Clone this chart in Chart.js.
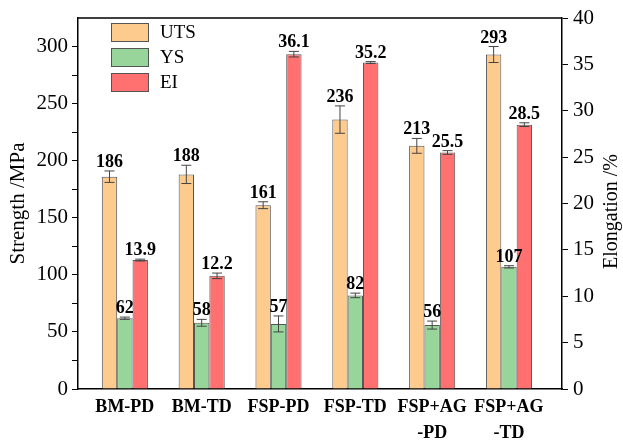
<!DOCTYPE html>
<html>
<head>
<meta charset="utf-8">
<script src="https://cdn.jsdelivr.net/npm/chart.js@4/dist/chart.umd.min.js"></script>
<style>
  body { margin: 0; background: #fff; }
  #wrap { width: 623px; height: 442px; }
</style>
</head>
<body>
<div id="wrap"><canvas id="mechChart"></canvas></div>
<script>
const categories = [['BM-PD'], ['BM-TD'], ['FSP-PD'], ['FSP-TD'], ['FSP+AG', '-PD'], ['FSP+AG', '-TD']];

const utsValues = [186, 188, 161, 236, 213, 293];
const utsErr    = [5, 8, 3, 12, 6.5, 7];
const ysValues  = [62, 58, 57, 82, 56, 107];
const ysErr     = [1, 3, 7, 2, 3.5, 1];
const eiValues  = [13.9, 12.2, 36.1, 35.2, 25.5, 28.5];
const eiErr     = [0.1, 0.3, 0.3, 0.1, 0.2, 0.2];

const seriesNames = ['UTS', 'YS', 'EI'];
const seriesColors = ['#fdcb8e', '#98d59a', '#ff7171'];

const SERIF = "'Liberation Serif', 'Times New Roman', serif";

function points(vals) {
  return vals.map((v, i) => ({ x: i, y: v }));
}

const errors = [utsErr, ysErr, eiErr];
const labelsText = [
  utsValues.map(String),
  ysValues.map(String),
  eiValues.map(v => v.toFixed(1)),
];

// error bars + value labels + legend + top frame line + right title
const extras = {
  id: 'extras',
  afterDatasetsDraw(chart) {
    const { ctx, chartArea } = chart;
    ctx.save();
    chart.data.datasets.forEach((ds, di) => {
      const meta = chart.getDatasetMeta(di);
      const yScale = chart.scales[ds.yAxisID];
      meta.data.forEach((bar, i) => {
        const v = ds.data[i].y;
        const e = errors[di][i];
        const top = yScale.getPixelForValue(v + e);
        const bot = yScale.getPixelForValue(v - e);
        ctx.strokeStyle = '#444';
        ctx.lineWidth = 1;
        ctx.beginPath();
        ctx.moveTo(bar.x, top); ctx.lineTo(bar.x, bot);
        ctx.moveTo(bar.x - 5, top); ctx.lineTo(bar.x + 5, top);
        ctx.moveTo(bar.x - 5, bot); ctx.lineTo(bar.x + 5, bot);
        ctx.stroke();

        ctx.fillStyle = '#000';
        ctx.font = 'bold 18px ' + SERIF;
        ctx.textAlign = 'center';
        ctx.textBaseline = 'alphabetic';
        ctx.fillText(labelsText[di][i], bar.x, top - 4);
      });
    });

    // top frame
    ctx.strokeStyle = '#000';
    ctx.lineWidth = 1.5;
    ctx.beginPath();
    ctx.moveTo(chartArea.left, chartArea.top);
    ctx.lineTo(chartArea.right, chartArea.top);
    ctx.stroke();

    // legend
    chart.data.datasets.forEach((ds, di) => {
      const x = 111, y = 23 + di * 25;
      ctx.fillStyle = ds.backgroundColor;
      ctx.fillRect(x, y, 38, 19);
      ctx.strokeStyle = '#555';
      ctx.lineWidth = 1;
      ctx.strokeRect(x + 0.5, y + 0.5, 37, 18);
      ctx.fillStyle = '#000';
      ctx.font = '19px ' + SERIF;
      ctx.textAlign = 'left';
      ctx.textBaseline = 'middle';
      ctx.fillText(ds.label, 160, y + 10);
    });

    // right axis title, reading bottom to top like the left one
    const r = chart.scales.y1;
    ctx.translate(r.right - 11, (chartArea.top + chartArea.bottom) / 2 + 8);
    ctx.rotate(-Math.PI / 2);
    ctx.fillStyle = '#000';
    ctx.font = '20px ' + SERIF;
    ctx.textAlign = 'center';
    ctx.textBaseline = 'middle';
    ctx.fillText('Elongation /%', 0, 0);
    ctx.restore();
  }
};

const datasets = [utsValues, ysValues, eiValues].map((vals, di) => ({
  label: seriesNames[di],
  data: points(vals),
  backgroundColor: seriesColors[di],
  borderColor: '#555',
  borderWidth: 1,
  yAxisID: di === 2 ? 'y1' : 'y',
  categoryPercentage: 0.6,
  barPercentage: 1.0,
}));

new Chart(document.getElementById('mechChart'), {
  type: 'bar',
  data: { datasets },
  plugins: [extras],
  options: {
    responsive: true,
    maintainAspectRatio: false,
    animation: false,
    layout: { padding: { top: 18, left: 0, right: 0, bottom: 0 } },
    plugins: { legend: { display: false }, tooltip: { enabled: false } },
    scales: {
      x: {
        type: 'linear',
        offset: false,
        min: -0.61,
        max: 5.69,
        afterBuildTicks: (scale) => { scale.ticks = categories.map((_, i) => ({ value: i })); },
        afterFit: (scale) => { scale.height = 53; },
        grid: { display: false },
        border: { display: true, color: '#000', width: 1.5 },
        ticks: {
          autoSkip: false,
          maxRotation: 0,
          padding: -3,
          color: '#000',
          font: { family: SERIF, size: 18, weight: 'bold', lineHeight: 1.45 },
          callback: (v) => categories[v],
        },
      },
      y: {
        position: 'left',
        min: 0,
        max: 325,
        afterFit: (scale) => { scale.width = 78; },
        grid: {
          drawOnChartArea: false,
          tickLength: 6,
          tickColor: (c) => (c.tick && c.tick.value === 325 ? 'rgba(0,0,0,0)' : '#000'),
        },
        border: { color: '#000', width: 1.5 },
        ticks: {
          stepSize: 25,
          padding: 4,
          color: '#000',
          font: { family: SERIF, size: 21 },
          callback: (v) => (v % 50 === 0 ? v : ''),
        },
        title: {
          display: true,
          text: 'Strength /MPa',
          color: '#000',
          font: { family: SERIF, size: 21 },
          padding: { top: 6, bottom: 0 },
        },
      },
      y1: {
        position: 'right',
        min: 0,
        max: 40,
        afterFit: (scale) => { scale.width = 61; },
        grid: { drawOnChartArea: false, tickLength: 6, tickColor: '#000' },
        border: { color: '#000', width: 1.5 },
        ticks: {
          stepSize: 2.5,
          padding: 5,
          color: '#000',
          font: { family: SERIF, size: 21 },
          callback: (v) => (v % 5 === 0 ? v : ''),
        },
      },
    },
  },
});
</script>
</body>
</html>
